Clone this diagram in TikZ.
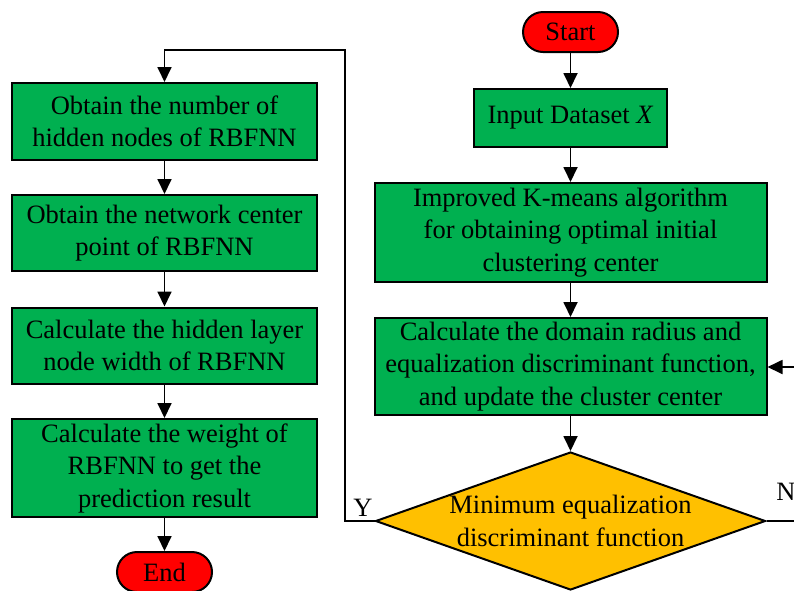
\documentclass[tikz,border=0pt]{standalone}
\usepackage{fontspec}
\setmainfont{Liberation Serif}
\usetikzlibrary{shapes.geometric,arrows.meta}
\definecolor{boxgreen}{RGB}{0,176,80}
\definecolor{termred}{RGB}{255,0,0}
\definecolor{decyellow}{RGB}{255,192,0}
\tikzset{
  box/.style={draw=black,line width=2pt,fill=boxgreen,align=center,inner sep=0pt,
    font=\fontsize{26.5}{32.5}\selectfont},
  term/.style={draw=black,line width=2pt,fill=termred,rounded corners=20pt,
    minimum width=95pt,minimum height=40pt,inner sep=0pt,font=\fontsize{26.5}{32.5}\selectfont},
  dec/.style={diamond,draw=black,line width=2pt,fill=decyellow,inner sep=0pt,
    minimum width=390pt,minimum height=138pt},
  arr/.style={line width=1.8pt,-{Triangle[length=15pt,width=14pt]}},
  ln/.style={line width=1.8pt},
  lab/.style={font=\fontsize{26.5}{32.5}\selectfont,inner sep=0pt}
}
\begin{document}
\begin{tikzpicture}[x=1pt,y=-1pt]
\useasboundingbox (0,0) rectangle (794,590);
\clip (0,0) rectangle (794,590);
% right column
\node[term] (start) at (570.5,32) {Start};
\node[box,minimum width=193pt,minimum height=58pt] (input) at (570.5,118) {Input Dataset \textit{X}};
\node[box,minimum width=392pt,minimum height=99pt] (kmeans) at (570.5,232.5) {Improved K-means algorithm\\for obtaining optimal initial\\clustering center};
\node[box,minimum width=392pt,minimum height=97pt] (calc) at (570.5,366.5) {Calculate the domain radius and\\equalization discriminant function,\\and update the cluster center};
\node[dec] (dec) at (570.5,521) {};
\node[lab,align=center] (dectext) at (570.5,521) {Minimum equalization\\discriminant function};
% left column
\node[box,minimum width=305pt,minimum height=77pt] (b1) at (164.5,121.5) {Obtain the number of\\hidden nodes of RBFNN};
\node[box,minimum width=305pt,minimum height=76pt] (b2) at (164.5,233) {Obtain the network center\\point of RBFNN};
\node[box,minimum width=305pt,minimum height=76pt] (b3) at (164.5,345.5) {Calculate the hidden layer\\node width of RBFNN};
\node[box,minimum width=305pt,minimum height=98pt] (b4) at (164.5,468) {Calculate the weight of\\RBFNN to get the\\prediction result};
\node[term] (end) at (164.5,572) {End};
% connectors right
\draw[arr] (start.south) -- (input.north);
\draw[arr] (input.south) -- (kmeans.north);
\draw[arr] (kmeans.south) -- (calc.north);
\draw[arr] (calc.south) -- (dec.north);
% N branch
\coordinate (nend) at (800,521);
\coordinate (nin) at (800,367);
\draw[ln] (dec.east) -- (nend);
\draw[arr] (nin) -- (calc.east |- nin);
\node[lab] (nlab) at (786,492) {N};
% Y branch
\coordinate (yc1) at (345,521);
\coordinate (yc2) at (345,50);
\coordinate (yc3) at (164.5,50);
\draw[arr] (dec.west) -- (yc1) -- (yc2) -- (yc3) -- (b1.north);
\node[lab] (ylab) at (363,508) {Y};
% connectors left
\draw[arr] (b1.south) -- (b2.north);
\draw[arr] (b2.south) -- (b3.north);
\draw[arr] (b3.south) -- (b4.north);
\draw[arr] (b4.south) -- (end.north);
\end{tikzpicture}
\end{document}
